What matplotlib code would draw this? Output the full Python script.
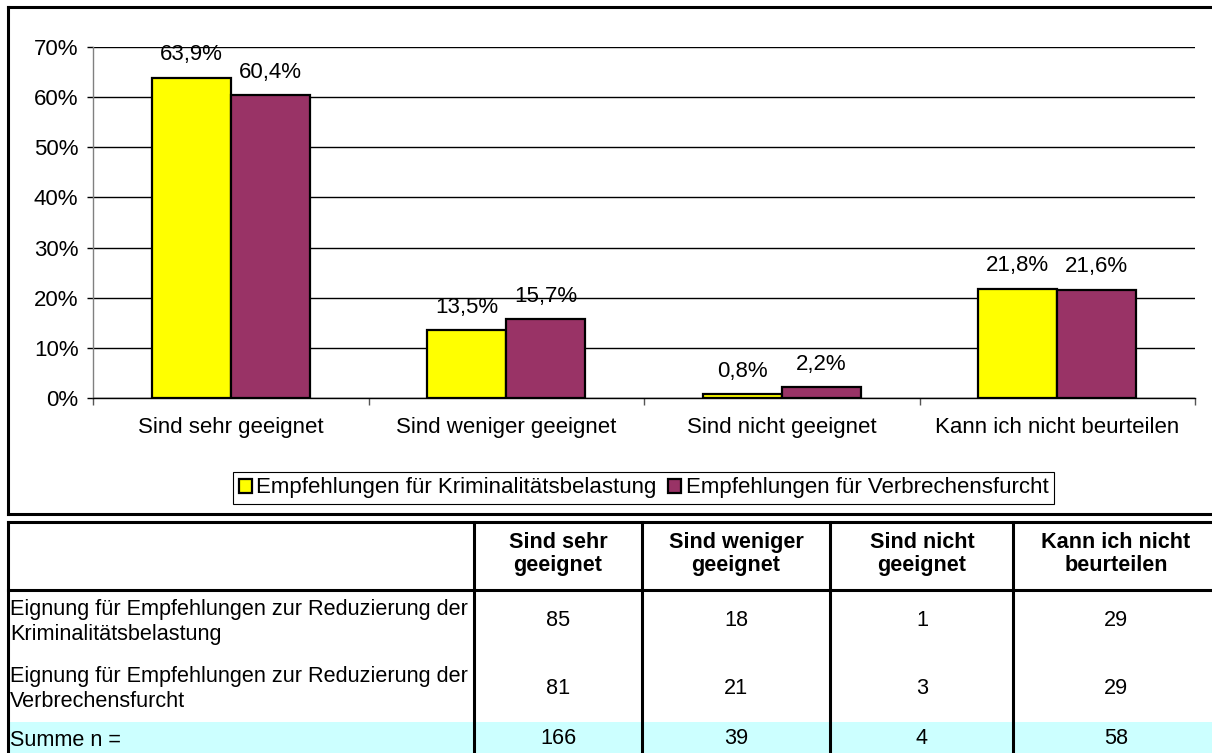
import matplotlib
matplotlib.use("Agg")
import matplotlib.pyplot as plt
import matplotlib.patches as mpatches
import numpy as np

plt.rcParams['font.family'] = ['Liberation Sans', 'DejaVu Sans']

# ---------------- data ----------------
categories = ["Sind sehr geeignet", "Sind weniger geeignet", "Sind nicht geeignet", "Kann ich nicht beurteilen"]
series_names = ["Empfehlungen für Kriminalitätsbelastung", "Empfehlungen für Verbrechensfurcht"]
kriminalitaet = [63.9, 13.5, 0.8, 21.8]
verbrechensfurcht = [60.4, 15.7, 2.2, 21.6]

table_header = ["Sind sehr\ngeeignet", "Sind weniger\ngeeignet", "Sind nicht\ngeeignet", "Kann ich nicht\nbeurteilen"]
row_labels = ["Eignung für Empfehlungen zur Reduzierung der\nKriminalitätsbelastung",
              "Eignung für Empfehlungen zur Reduzierung der\nVerbrechensfurcht",
              "Summe n ="]
counts_krim = [85, 18, 1, 29]
counts_furcht = [81, 21, 3, 29]
counts_sum = [166, 39, 4, 58]

colors = ['#FFFF00', '#993366']
FS = 16
FS_TAB = 15.6
W, H = 1212, 753

fig = plt.figure(figsize=(W / 100, H / 100), dpi=100)

# background axes in pixel coordinates for frame + table
bg = fig.add_axes([0, 0, 1, 1], zorder=0)
bg.set_xlim(0, W)
bg.set_ylim(H, 0)
bg.axis('off')

lw = 2.2
# chart frame (right side runs off the picture)
bg.plot([8, 8], [7, 514], color='black', lw=lw, solid_capstyle='projecting')
bg.plot([8, W + 5], [7, 7], color='black', lw=lw)
bg.plot([8, W + 5], [514, 514], color='black', lw=lw)

# ---------------- table ----------------
col_edges = [8, 474, 642, 830, 1013, W + 5]
col_centers = [558, 736, 922, 1116]
bg.add_patch(mpatches.Rectangle((8, 722), W, 40, facecolor='#CCFFFF', edgecolor='none'))
bg.plot([8, W + 5], [522, 522], color='black', lw=lw)
bg.plot([8, W + 5], [590, 590], color='black', lw=lw)
for x in col_edges[:-1]:
    bg.plot([x, x], [522, H + 5], color='black', lw=lw)

for cx, txt in zip(col_centers, table_header):
    bg.text(cx, 554, txt, ha='center', va='center', fontsize=FS_TAB,
            fontweight='bold', linespacing=1.08)

row_y = [621, 688, 739]
for y, lab, vals in zip(row_y, row_labels, [counts_krim, counts_furcht, counts_sum]):
    bg.text(10, y + 1, lab, ha='left', va='center', fontsize=FS_TAB, linespacing=1.25)
    for cx, v in zip(col_centers, vals):
        bg.text(cx, y, str(v), ha='center', va='center', fontsize=FS_TAB)

# ---------------- bar chart ----------------
ax = fig.add_axes([93 / W, 1 - 398 / H, (1195 - 93) / W, (398 - 47) / H], zorder=2)
ax.set_facecolor('none')

x = np.arange(len(categories))
bw = 0.287
b1 = ax.bar(x - bw / 2, kriminalitaet, bw, color=colors[0], edgecolor='black', linewidth=1.6, zorder=3)
b2 = ax.bar(x + bw / 2, verbrechensfurcht, bw, color=colors[1], edgecolor='black', linewidth=1.6, zorder=3)

for bars, vals in [(b1, kriminalitaet), (b2, verbrechensfurcht)]:
    for rect, v in zip(bars, vals):
        ax.annotate(f"{v:.1f}%".replace('.', ','), (rect.get_x() + rect.get_width() / 2, v),
                    xytext=(0, 12.5), textcoords='offset points', ha='center', va='baseline',
                    fontsize=FS, zorder=4)

ax.set_xlim(-0.5, len(categories) - 0.5)
ax.set_ylim(0, 70)
ax.set_yticks(np.arange(0, 71, 10))
ax.set_yticklabels([f"{t}%" for t in range(0, 71, 10)], fontsize=FS)
ax.yaxis.grid(True, color='black', linewidth=1.0, zorder=1)
ax.set_axisbelow(True)

ax.set_xticks(x)
ax.set_xticklabels(categories, fontsize=FS)
ax.set_xticks(np.arange(-0.5, len(categories), 1), minor=True)
ax.tick_params(axis='x', which='major', length=0, pad=14)
ax.tick_params(axis='x', which='minor', length=5, width=1, color='#555555', direction='out')
ax.tick_params(axis='y', length=4.5, width=1, color='black', pad=6)

for s in ['top', 'right']:
    ax.spines[s].set_visible(False)
ax.spines['left'].set_color('#808080')
ax.spines['left'].set_linewidth(1)
ax.spines['bottom'].set_color('black')
ax.spines['bottom'].set_linewidth(1)

handles = [mpatches.Patch(facecolor=c, edgecolor='black', linewidth=1.6) for c in colors]
leg = fig.legend(handles, series_names, loc='center', bbox_to_anchor=(643.5 / W, 1 - 488 / H),
                 ncol=2, fontsize=FS, frameon=True, fancybox=False, framealpha=1,
                 edgecolor='black', borderpad=0.25, handlelength=0.6, handleheight=0.6,
                 handletextpad=0.2, columnspacing=0.5, borderaxespad=0)
leg.get_frame().set_linewidth(0.8)

fig.savefig('out.png', dpi=100)
